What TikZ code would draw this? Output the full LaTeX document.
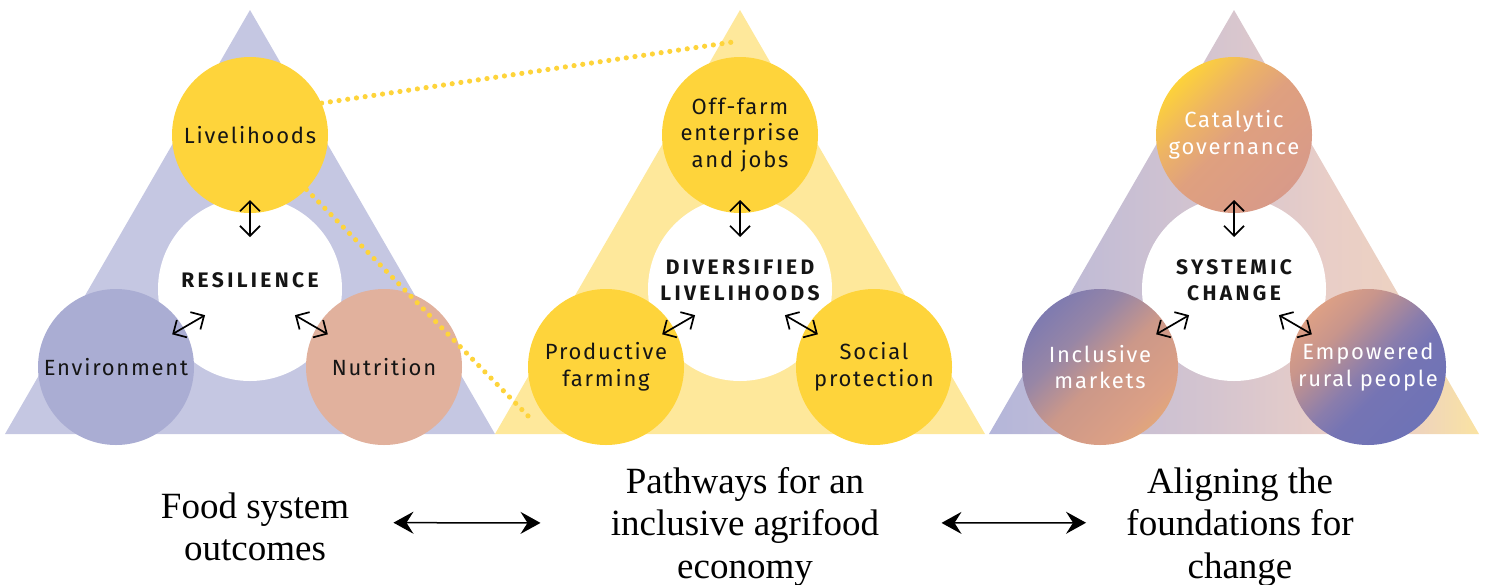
\documentclass[tikz,border=0pt]{standalone}
\usepackage{fontspec}
\setmainfont{Liberation Serif}
\newfontfamily\circfont{Fira Sans}[LetterSpace=8]
\newfontfamily\hubfont{Fira Sans}[LetterSpace=16]
\usepackage{tikz}
\usetikzlibrary{arrows.meta}
\usetikzlibrary{positioning,calc}

\definecolor{inkblack}{HTML}{151515}
\definecolor{lavtri}{HTML}{C5C7E2}
\definecolor{envblue}{HTML}{AAADD3}
\definecolor{nutpink}{HTML}{E1B19D}
\definecolor{livyellow}{HTML}{FED43B}
\definecolor{paleyellow}{HTML}{FEE89B}

% gradients of the third triangle
\pgfdeclarehorizontalshading{sysfade}{100bp}{%
  color(0bp)=(rgb,255:red,180;green,182;blue,218);
  color(25bp)=(rgb,255:red,180;green,182;blue,218);
  color(50bp)=(rgb,255:red,216;green,198;blue,206);
  color(60bp)=(rgb,255:red,233;green,206;blue,199);
  color(68bp)=(rgb,255:red,237;green,210;blue,192);
  color(75bp)=(rgb,255:red,250;green,227;blue,162);
  color(100bp)=(rgb,255:red,250;green,227;blue,162)}
\pgfdeclarehorizontalshading{govfade}{100bp}{%
  color(0bp)=(rgb,255:red,253;green,210;blue,58);
  color(25bp)=(rgb,255:red,253;green,210;blue,58);
  color(38bp)=(rgb,255:red,237;green,179;blue,101);
  color(50bp)=(rgb,255:red,223;green,160;blue,127);
  color(75bp)=(rgb,255:red,216;green,154;blue,137);
  color(100bp)=(rgb,255:red,216;green,154;blue,137)}
\pgfdeclarehorizontalshading{marketfade}{100bp}{%
  color(0bp)=(rgb,255:red,127;green,123;blue,176);
  color(25bp)=(rgb,255:red,127;green,123;blue,176);
  color(38bp)=(rgb,255:red,151;green,134;blue,166);
  color(52bp)=(rgb,255:red,204;green,152;blue,137);
  color(70bp)=(rgb,255:red,220;green,160;blue,133);
  color(75bp)=(rgb,255:red,225;green,166;blue,124);
  color(100bp)=(rgb,255:red,225;green,166;blue,124)}
\pgfdeclarehorizontalshading{peoplefade}{100bp}{%
  color(0bp)=(rgb,255:red,221;green,160;blue,133);
  color(25bp)=(rgb,255:red,221;green,160;blue,133);
  color(35bp)=(rgb,255:red,200;green,149;blue,140);
  color(50bp)=(rgb,255:red,138;green,125;blue,172);
  color(58bp)=(rgb,255:red,117;green,116;blue,180);
  color(75bp)=(rgb,255:red,110;green,115;blue,182);
  color(100bp)=(rgb,255:red,110;green,115;blue,182)}

\tikzset{
    blob/.style={
           on grid,
           circle,
           minimum size=78pt,
           inner sep=0pt,
           align=center,
           text=inkblack,
           font=\circfont\fontsize{11pt}{13.3pt}\selectfont,
           },
    hub/.style={
           circle,
           fill=white,
           minimum size=92pt,
           inner sep=0pt,
           },
    hubtext/.style={
           align=center,
           inner sep=0pt,
           text=inkblack,
           font=\hubfont\bfseries\fontsize{10.5pt}{13pt}\selectfont,
           },
    twoway/.style={
           {Straight Barb[length=5pt,width=10pt]}-{Straight Barb[length=5pt,width=10pt]},
           line width=0.85pt,
           shorten <=26pt,
           shorten >=32.5pt,
           },
    bigway/.style={
           {Stealth[length=10pt,width=11pt,inset=3.5pt]}-{Stealth[length=10pt,width=11pt,inset=3.5pt]},
           line width=0.75pt,
           },
    caption/.style={
           align=center,
           inner sep=0pt,
           anchor=north,
           font=\fontsize{18.5pt}{21.25pt}\selectfont,
           },
    zoomline/.style={
           livyellow,
           line width=2.6pt,
           line cap=round,
           dash pattern=on 0pt off 4.4pt,
           },
}

\begin{document}
\begin{tikzpicture}
[
x=0.5pt,y=-0.5pt
]
\useasboundingbox (0,0) rectangle (1488,584);

 % First triangle: outcomes
 \fill[lavtri] (250,10) -- (5,434) -- (495,434) -- cycle;
 \node[hub] (RES) at (250,289) {};
 \node[blob, fill=livyellow, above=77pt of RES] (LIVE) {Livelihoods};
 \node[blob, fill=envblue, below left=39pt and 67pt of RES] (ENVI) {Environment};
 \node[blob, fill=nutpink, below right=39pt and 67pt of RES] (NUTR) {Nutrition};
 \node[hubtext] (RESTXT) at ([yshift=4.5pt]RES.center) {RESILIENCE};
 \path[twoway]
  (RES.center) edge (LIVE.center)
  (RES.center) edge (ENVI.center)
  (RES.center) edge (NUTR.center);

 % Second triangle: pathways
 \fill[paleyellow] (740,10) -- (495,434) -- (985,434) -- cycle;
 \node[hub] (DIV) at (740,289) {};
 \node[blob, fill=livyellow, above=77pt of DIV] (OFFF) {Off-farm\\enterprise\\and jobs};
 \node[blob, fill=livyellow, below left=39pt and 67pt of DIV] (PROD) {Productive\\farming};
 \node[blob, fill=livyellow, below right=39pt and 67pt of DIV] (SOCP) {Social\\protection};
 \node[hubtext] (DIVTXT) at ([yshift=4.5pt]DIV.center) {DIVERSIFIED\\LIVELIHOODS};
 \path[twoway]
  (DIV.center) edge (OFFF.center)
  (DIV.center) edge (PROD.center)
  (DIV.center) edge (SOCP.center);

 % Third triangle: foundations
 \shade[shading=sysfade] (1234,10) -- (989,434) -- (1479,434) -- cycle;
 \node[hub] (SYS) at (1234,289) {};
 \node[blob, text=white, shading=govfade, shading angle=-45, above=77pt of SYS] (GOV) {Catalytic\\governance};
 \node[blob, text=white, shading=marketfade, shading angle=-45, below left=39pt and 67pt of SYS] (MARK) {Inclusive\\markets};
 \node[blob, text=white, shading=peoplefade, shading angle=-45, below right=39pt and 67pt of SYS] (PEOP) {Empowered\\rural people};
 \node[hubtext] (SYSTXT) at ([yshift=4.5pt]SYS.center) {SYSTEMIC\\CHANGE};
 \path[twoway]
  (SYS.center) edge (GOV.center)
  (SYS.center) edge (MARK.center)
  (SYS.center) edge (PEOP.center);

 % zoom lines from Livelihoods to the second triangle
 \coordinate (ZTOP) at (733,42);
 \coordinate (ZBOT) at (533,421);
 \draw[zoomline] (LIVE.24) -- (ZTOP);
 \draw[zoomline] (LIVE.-44) -- (ZBOT);

 % captions below
 \node[caption] (FOODTXT) at (255,492) {Food system\\outcomes};
 \node[caption] (PATHTXT) at (745,467) {Pathways for an\\inclusive agrifood\\economy};
 \node[caption] (ALIGNTXT) at (1240,467) {Aligning the\\foundations for\\change};
 \draw[bigway] ([xshift=22pt,yshift=2pt]FOODTXT.east) -- ([xshift=-35pt,yshift=2pt]PATHTXT.west);
 \draw[bigway] ([xshift=31pt,yshift=2pt]PATHTXT.east) -- ([xshift=-20pt,yshift=2pt]ALIGNTXT.west);
\end{tikzpicture}
\end{document}
